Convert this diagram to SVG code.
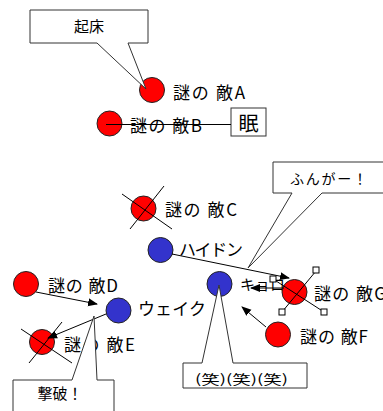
<svg xmlns="http://www.w3.org/2000/svg" width="383" height="411" viewBox="0 0 383 411">
<defs>
<style>
text{font-family:"Noto Sans CJK JP","Noto Sans",sans-serif;fill:#000}
.lbl{font-size:17px}
.red{fill:#ff0000;stroke:#222;stroke-width:1}
.blue{fill:#3333cc;stroke:#222;stroke-width:1}
.ln{stroke:#000;stroke-width:1;fill:none}
.callout{fill:#fff;stroke:#333;stroke-width:1}
.h{fill:#fff;stroke:#000;stroke-width:1}
</style>
<marker id="ah" markerWidth="10" markerHeight="10" refX="9" refY="5" orient="auto" markerUnits="userSpaceOnUse">
<path d="M0,1 L10,5 L0,9 Z" fill="#000"/>
</marker>
</defs>
<rect width="383" height="411" fill="#fff"/>

<g id="enemyA"><circle class="red" cx="152" cy="90" r="12.5"/><text class="lbl" x="173" y="99" textLength="72" lengthAdjust="spacing">謎の 敵A</text></g>
<g id="enemyB"><circle class="red" cx="109.5" cy="123.5" r="12.5"/><text class="lbl" x="130" y="132" textLength="72" lengthAdjust="spacing">謎の 敵B</text></g>
<g id="sleep"><rect class="callout" x="231" y="108" width="35" height="28"/><text x="248.5" y="131" font-size="20" text-anchor="middle">眠</text></g>
<g id="enemyC"><circle class="red" cx="143.5" cy="208.5" r="12.5"/><text class="lbl" x="165" y="216" textLength="72" lengthAdjust="spacing">謎の 敵C</text></g>
<g id="haydn"><circle class="blue" cx="160.5" cy="250" r="12.5"/><text class="lbl" x="179" y="256" textLength="64" lengthAdjust="spacing">ハイドン</text></g>
<g id="enemyD"><circle class="red" cx="26" cy="284" r="12.5"/><text class="lbl" x="48" y="292" textLength="70" lengthAdjust="spacing">謎の 敵D</text></g>
<g id="wake"><circle class="blue" cx="118.5" cy="310.5" r="12.5"/><text class="lbl" x="138" y="315" textLength="68" lengthAdjust="spacing">ウェイク</text></g>
<g id="enemyE"><circle class="red" cx="42" cy="342" r="12.5"/><text class="lbl" x="64" y="351" textLength="71" lengthAdjust="spacing">謎の 敵E</text></g>
<g id="kyoro"><circle class="blue" cx="219.5" cy="284" r="12.5"/><text x="240" y="290" font-size="15">キョロ</text></g>
<g id="enemyG"><circle class="red" cx="294.5" cy="292" r="12.5"/><text class="lbl" x="314" y="300" textLength="72" lengthAdjust="spacing">謎の 敵G</text></g>
<g id="enemyF"><circle class="red" cx="278" cy="334.5" r="12.5"/><text class="lbl" x="300" y="343" textLength="68" lengthAdjust="spacing">謎の 敵F</text></g>

<g id="connectors">
<line class="ln" x1="106" y1="124.5" x2="231" y2="124.5"/>
<line class="ln" x1="122" y1="194" x2="172" y2="229"/>
<line class="ln" x1="164" y1="186" x2="130" y2="229"/>
<line class="ln" x1="21" y1="329" x2="72" y2="363"/>
<line class="ln" x1="62" y1="322" x2="29" y2="363"/>
<line class="ln" x1="172" y1="254" x2="289" y2="278" marker-end="url(#ah)"/>
<line class="ln" x1="36" y1="292" x2="97" y2="304" marker-end="url(#ah)"/>
<line class="ln" x1="106" y1="314" x2="48" y2="338" marker-end="url(#ah)"/>
<line class="ln" x1="266" y1="327" x2="242" y2="307" marker-end="url(#ah)"/>
<line class="ln" x1="284" y1="288" x2="251" y2="288" marker-end="url(#ah)"/>
<line class="ln" x1="316" y1="271" x2="282" y2="312"/>
<line class="ln" x1="273" y1="279" x2="324" y2="312"/>
<rect class="h" x="313" y="267" width="6" height="6"/>
<rect class="h" x="270" y="276" width="6" height="6"/>
<rect class="h" x="279" y="309" width="6" height="6"/>
<rect class="h" x="321" y="309" width="6" height="6"/>
</g>

<g id="callout-wakeup"><path class="callout" d="M30,10 H148 V43 H128 L146,89 L97,43 H30 Z"/><text x="89" y="32" font-size="15" text-anchor="middle">起床</text></g>
<g id="callout-funga"><path class="callout" d="M273,162 H390 V193 H322 L248,268 L292,193 H273 Z"/><text x="290" y="184" font-size="14" textLength="77" lengthAdjust="spacing">ふんがー！</text></g>
<g id="callout-gekiha"><path class="callout" d="M13,380 H72 L94,316 L97,380 H114 V420 H13 Z"/><text x="60" y="399" font-size="15" text-anchor="middle">撃破！</text></g>
<g id="callout-warai"><path class="callout" d="M183,363 H202 L219,285 L233,363 H307 V388 H183 Z"/><text x="195" y="384" font-size="13" textLength="93" lengthAdjust="spacingAndGlyphs">(笑)(笑)(笑)</text></g>
</svg>
